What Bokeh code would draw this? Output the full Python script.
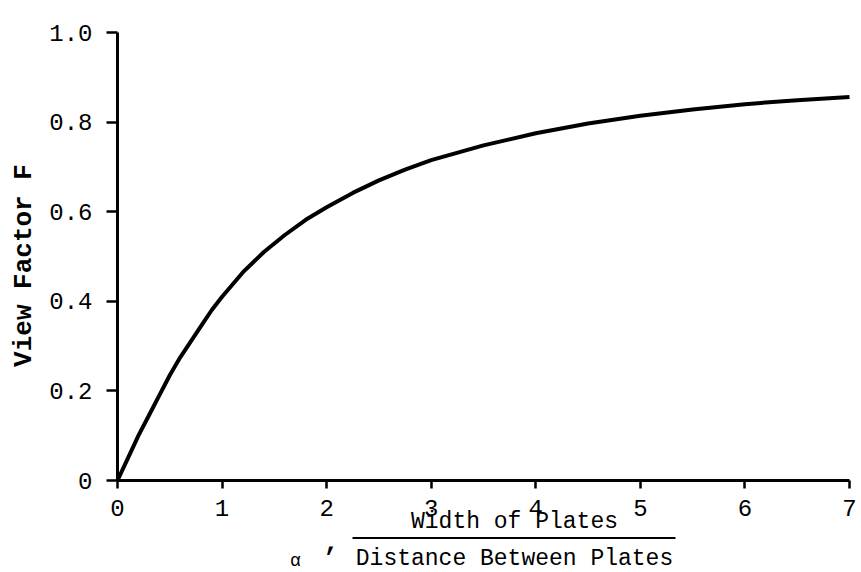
import math
from bokeh.plotting import figure
from bokeh.models import FixedTicker, Label, BoxAnnotation, Range1d
from bokeh.embed import file_html
from bokeh.resources import INLINE

# View factor between two parallel plates vs. width/spacing ratio
ratio = [0, 0.1, 0.2, 0.3, 0.4, 0.5, 0.6, 0.7, 0.8, 0.9, 1.0, 1.2, 1.4, 1.6, 1.8, 2.0,
         2.25, 2.5, 2.75, 3.0, 3.5, 4.0, 4.5, 5.0, 5.5, 6.0, 6.5, 7.0]
view_factor = [0, 0.05, 0.10, 0.145, 0.19, 0.235, 0.275, 0.31, 0.345, 0.38, 0.41, 0.465,
               0.51, 0.548, 0.582, 0.61, 0.642, 0.67, 0.694, 0.715, 0.748, 0.775, 0.797,
               0.814, 0.828, 0.84, 0.849, 0.856]

x_ticks = [0, 1, 2, 3, 4, 5, 6, 7]
y_ticks = [0, 0.2, 0.4, 0.6, 0.8, 1.0]
y_tick_labels = ["0", "0.2", "0.4", "0.6", "0.8", "1.0"]

FONT = "Liberation Mono"
PX_X = 732 / 7   # pixels per unit of ratio
PX_Y = 448       # pixels per unit of F

p = figure(width=861, height=572, output_backend="svg", toolbar_location=None,
           x_range=Range1d(-117 / PX_X, 7 + 12 / PX_X),
           y_range=Range1d(-92 / PX_Y, 1 + 32 / PX_Y),
           min_border=0)
p.background_fill_color = "white"
p.border_fill_color = "white"
p.outline_line_color = None
p.grid.visible = False

p.line(ratio, view_factor, line_color="black", line_width=4)

# axes pinned at the origin, spanning only the data extent
for ax in (p.xaxis[0], p.yaxis[0]):
    ax.fixed_location = 0
    ax.axis_line_width = 3
    ax.axis_line_color = "black"
    ax.major_tick_line_width = 2.5
    ax.major_tick_line_color = "black"
    ax.major_tick_in = 0
    ax.minor_tick_line_color = None
    ax.major_label_text_font = FONT
    ax.major_label_text_font_size = "24px"
    ax.major_label_text_color = "black"

p.xaxis[0].bounds = (0, 7)
p.xaxis[0].ticker = FixedTicker(ticks=x_ticks)
p.xaxis[0].major_tick_out = 8
p.xaxis[0].major_label_standoff = 11

p.yaxis[0].bounds = (0, 1)
p.yaxis[0].ticker = FixedTicker(ticks=y_ticks)
p.yaxis[0].major_label_overrides = {t: s for t, s in zip(y_ticks, y_tick_labels)}
p.yaxis[0].major_tick_out = 11
p.yaxis[0].major_label_standoff = 14

# pixel -> data helpers for text placed around the axes
def dx(px):
    return (px - 117) / PX_X

def dy(py):
    return (480 - py) / PX_Y

p.add_layout(Label(x=dx(23), y=dy(265), text="View Factor F", angle=math.pi / 2,
                   text_font=FONT, text_font_size="26px", text_font_style="bold",
                   text_align="center", text_baseline="middle", text_color="black"))

p.add_layout(Label(x=dx(514), y=dy(521), text="Width of Plates",
                   text_font=FONT, text_font_size="23px",
                   text_align="center", text_baseline="middle", text_color="black"))
p.add_layout(Label(x=dx(514), y=dy(558), text="Distance Between Plates",
                   text_font=FONT, text_font_size="23px",
                   text_align="center", text_baseline="middle", text_color="black"))
p.add_layout(BoxAnnotation(left=dx(352), right=dx(675), top=dy(536.5), bottom=dy(538.5),
                           fill_color="black", fill_alpha=1.0, line_color=None))
p.add_layout(Label(x=dx(295), y=dy(560), text="α",
                   text_font=FONT, text_font_size="18px",
                   text_align="center", text_baseline="middle", text_color="black"))
p.add_layout(Label(x=dx(331), y=dy(541), text=",",
                   text_font=FONT, text_font_size="26px", text_font_style="bold",
                   text_align="center", text_baseline="middle", text_color="black"))

open("out.html", "w").write(file_html(p, INLINE))
